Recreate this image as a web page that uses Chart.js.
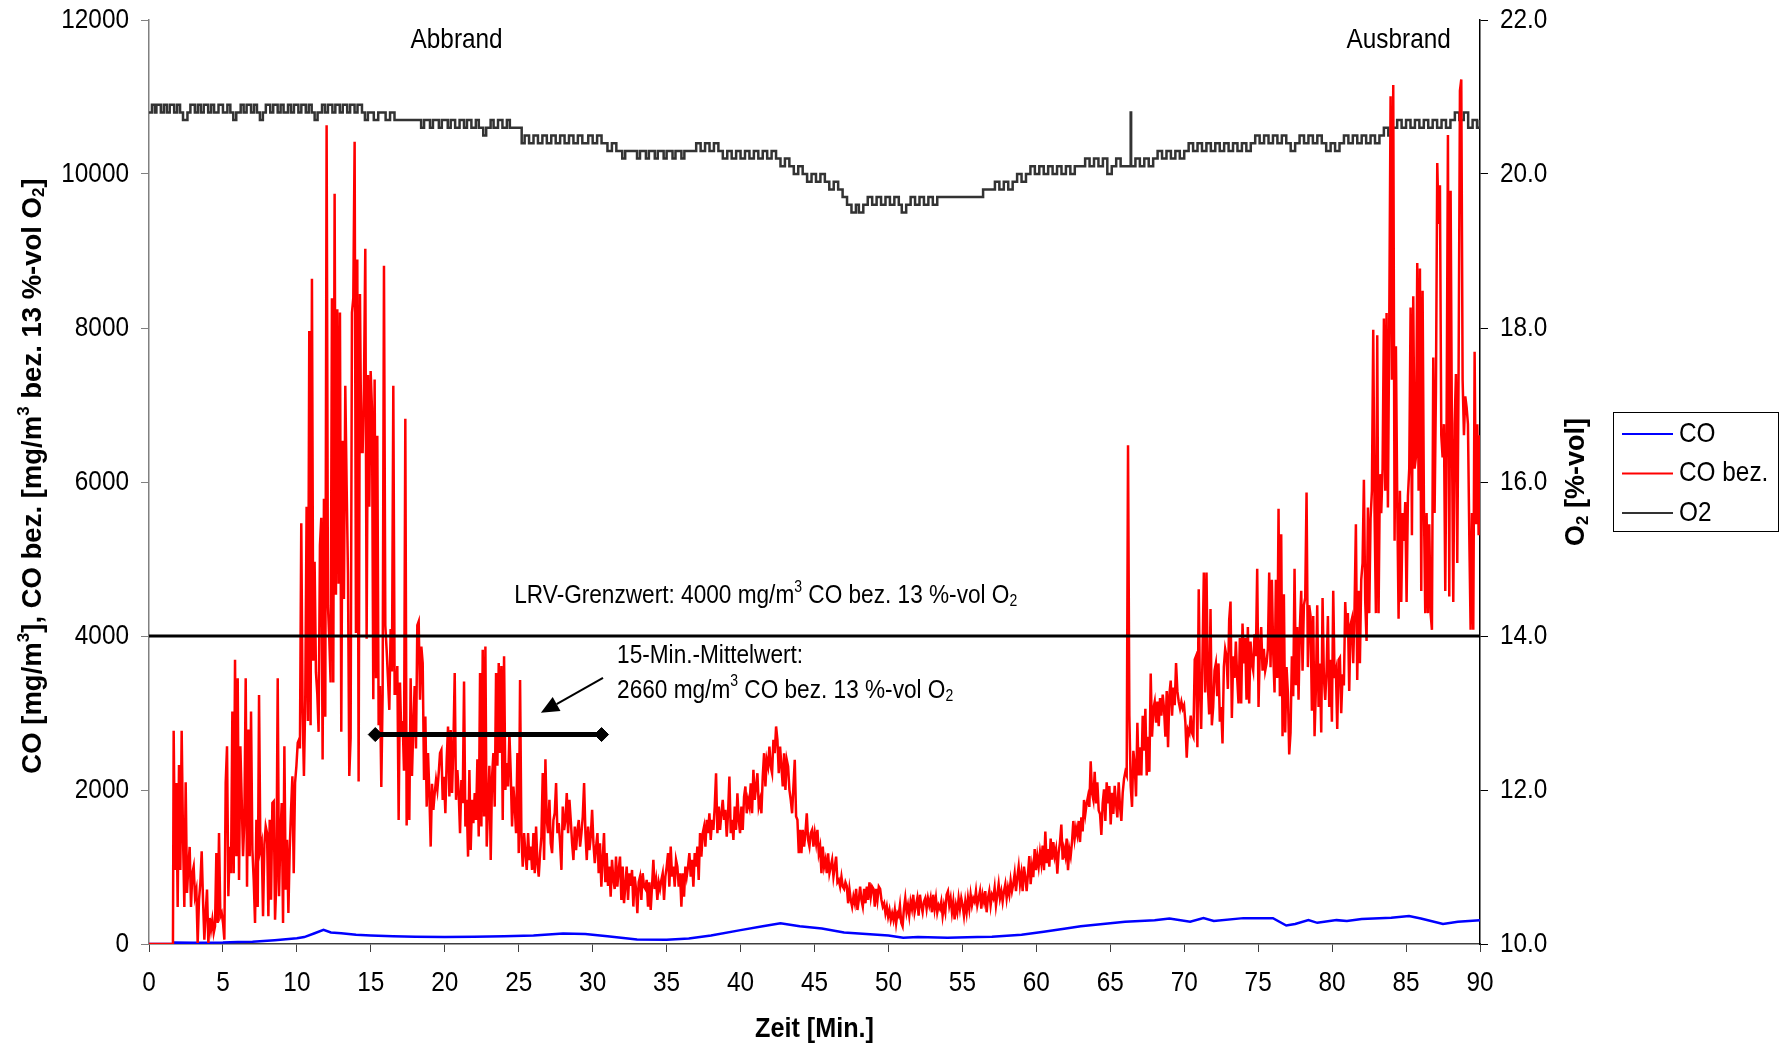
<!DOCTYPE html>
<html>
<head>
<meta charset="utf-8">
<title>CO / O2 Abbrand</title>
<script src="https://cdn.jsdelivr.net/npm/chart.js@4.4.1/dist/chart.umd.min.js"></script>
<style>
    html, body { margin: 0; padding: 0; background: #fff; }
    #wrap { width: 1781px; height: 1046px; }
</style>
</head>
<body>
<div id="wrap"><canvas id="chart" width="1781" height="1046"></canvas></div>
<script>
// ---- Data ----
// tick labels
const timeTicks = [0, 5, 10, 15, 20, 25, 30, 35, 40, 45, 50, 55, 60, 65, 70, 75, 80, 85, 90];
const coTicks = [0, 2000, 4000, 6000, 8000, 10000, 12000];
const o2Ticks = [10, 12, 14, 16, 18, 20, 22];

// CO bez. trace, digitised in blocks of evenly spaced samples
const STEP = 0.0902; // minutes between two digitised samples
const coBezLead = [[0, 0], [1.62, 0]];
const coBezA = [2770, 962, 2092, 481, 2326, 962, 2770, 1391, 481, 2100, 663, 1005, 1261, 481, 919, 1005, 620, 706, 13, 575,
    792, 1203, 575, 56, 403, 706, 13, 338, 186, 316, 143, 230, 1182, 273, 1442, 360, 403, 273, 56, 2092,
    2569, 620, 1261, 919, 3018, 919, 3692, 1139, 3452, 832, 2569, 1875, 1139, 1615, 3452, 745, 2786, 1139, 3018, 1226,
    832, 273, 1615, 481, 3235, 1226, 1313, 360, 1290, 1529, 1442, 360, 1615, 575, 1832, 1853, 316, 832, 3452, 620,
    1400, 1832, 273, 2569, 706, 1355, 403, 1226, 1745, 2179, 919, 2092, 2309, 2612, 2656];
const coBezB = [2540, 5463, 3040, 2183, 3183, 5680, 2897, 7960, 2840, 8640, 3680, 4963, 3530, 3250, 2755, 5177, 5535, 2397, 5783, 2950,
    10634, 4394, 3965, 3395, 8387, 3395, 9744, 4536, 8245, 4680, 8200, 2755, 6535, 4480, 7250, 5963, 4820, 2183, 2680, 8200,
    8387, 10420, 4040, 8890, 2112, 8440, 6390, 6390, 7250, 9030, 3965, 7390, 5680, 7440, 6960, 3180, 7330, 3450, 6600, 2840,
    3350, 2040, 3250, 8810, 4140, 3820, 3450, 3040, 4090, 3540, 7250, 3250, 3250, 3610, 1610, 3395, 2700, 2897, 2250, 6820,
    1540, 2700, 1610, 3450, 2183, 2840, 3350, 2540, 4140];
const coBezC = [4190, 3172, 3863, 3650, 2130, 2953, 1784, 2480, 1960, 1265, 2080, 1742, 1960, 2130, 2000, 2220, 2480, 2520, 1872, 2170,
    1700, 2400, 2823, 1916, 2780, 1960, 2565, 3520, 1872, 2260, 1960, 1440, 2130, 1830, 3410, 1525, 1872, 1135, 2260, 1220,
    1872, 1570, 1960, 1610, 2400, 1395, 3520, 1525, 3820, 1655, 3863, 1265, 1784, 2315, 1090, 2170, 2480, 1784, 3520, 2315,
    3650, 2480, 3610, 1610, 3737, 2000, 2350, 2045, 2740, 2220, 1525, 2045, 1784, 1440, 2480, 1180, 3430, 1395, 1004, 1440,
    1180, 962, 1440, 1090, 1265, 962, 1440, 918, 1525, 1050, 875, 1180, 1395, 2220, 1090, 2400, 1610, 1440, 1872, 1310,
    1180, 1610, 1700, 2090, 1440, 1570, 1310, 962, 1784, 1480, 1610, 1960, 1440, 1872, 1610, 1310, 1090, 1525, 1220, 1480,
    1610, 1265, 1440, 1655, 2090, 1440, 1090, 1525, 1220, 1395, 1742, 1310, 1050, 1265, 1440];
const coBezD = [919, 1308, 745, 1092, 1440, 802, 1180, 754, 1005, 615, 1092, 832, 715, 1135, 745, 962, 1135, 572, 1005, 529,
    754, 1005, 572, 919, 754, 962, 486, 875, 715, 399, 802, 875, 572, 919, 745, 715, 832, 486, 802, 442,
    745, 1092, 715, 832, 572, 802, 715, 832, 919, 572, 875, 1005, 1180, 745, 1265, 875, 1005, 745, 1092, 1005,
    745, 919, 486, 919, 615, 1005, 875, 1005, 1180, 875, 1092, 745, 1180, 1005, 1265, 832, 1440, 1135, 1440, 1525,
    1265, 1612, 1440, 1698, 1352, 1612, 1482, 1785, 2218, 1440, 1785, 1482, 1698, 1871, 1612, 1742, 1395, 1698, 2175, 1440,
    1612, 1352, 1785, 1482, 1958, 1612, 1440, 1785, 1482, 1915, 2045, 1698, 1871, 1785, 2088, 1698, 2262, 1871, 2045, 2218,
    1785, 1871, 1698, 2175, 2478, 2045, 2392, 2305, 2565, 2305, 2218, 2652, 2478, 2825, 2652, 2218, 2565, 2305, 2045, 2478,
    2002, 2392, 2305, 2002, 1871, 1698, 2045, 2392, 1655, 1612, 1178, 1482, 1178, 1482, 1265, 1440, 1698, 1352, 1265, 1440,
    1482, 1265, 1440, 1308, 1482, 1178, 1265, 919, 1265, 1005, 1092, 919, 1178, 919, 1005, 1092, 875, 1005, 1135, 802,
    832, 745, 875, 745, 715, 802, 754, 529, 715, 572, 486, 615, 529, 715, 442, 572, 745, 572, 486, 715,
    529, 745, 572, 802, 615, 745, 715, 486, 715, 572, 745, 715, 572, 486, 529, 399, 486, 356, 442, 312,
    399, 312, 442, 269, 399];
const coBezE = [367, 503, 276, 230, 458, 595, 412, 503, 367, 550, 458, 640, 412, 503, 595, 367, 640, 503, 412, 550,
    595, 458, 595, 503, 595, 412, 640, 458, 595, 412, 503, 458, 550, 367, 503, 412, 640, 686, 503, 595,
    412, 550, 321, 503, 412, 595, 458, 595, 503, 367, 550, 412, 595, 458, 640, 503, 595, 550, 686, 503,
    595, 686, 458, 640, 550, 686, 412, 595, 686, 503, 640, 595, 732, 503, 640, 777, 595, 686, 550, 686,
    777, 595, 732, 640, 823, 686, 777, 914, 686, 868, 1005, 777, 914, 686, 1005, 868, 686, 914, 1142, 777,
    1005, 868, 1233, 959, 1142, 1005, 1188, 1050, 1279, 959, 1461, 1050, 1233, 1005, 1370, 1096, 1324, 1142, 1233, 914,
    1188, 1324, 1552, 1096, 1233, 1142, 1370, 959, 1233, 1142, 1324, 1598, 1370, 1506, 1415, 1598, 1324, 1644, 1461, 1871,
    1689, 1826, 1917, 1780, 2373, 1962, 1871, 2236, 1826, 2099, 1735, 1689, 1415, 1826, 2008, 1598, 2099, 1826, 2053, 1552,
    1962, 1689, 2053, 1826, 1644, 2099, 1780, 1598, 1962, 2145, 2236, 2190, 6476, 2965, 2053, 1780, 2509, 2327, 1917, 2874,
    2190, 2555, 2190, 2965, 2509, 3056, 2190, 2691, 2236, 3512, 2691, 3056, 3147, 2874, 3147, 2828, 3193, 2965, 3238, 3056,
    2691, 3284, 2555, 3238, 3420, 2965, 3329, 3101, 3649, 3284, 3147, 3056, 3147, 3056, 3101, 2874, 2418, 2782, 2737, 2965,
    2737, 2691, 3694, 3740, 2555, 4607];
const coBezF = [3360, 2793, 3738, 4825, 3266, 4825, 3360, 2982, 4352, 2840, 3077, 3549, 3644, 3218, 3644, 2888, 3077, 2604, 3596, 3832,
    3738, 3313, 4210, 4447, 2935, 3738, 3455, 3927, 3455, 3124, 3974, 3124, 4163, 3644, 3974, 3171, 4116, 3124, 3927, 3644,
    3549, 4022, 3738, 4872, 3077, 3832, 4116, 3549, 3832, 3549, 3644, 3832, 4825, 3596, 4730, 3785, 3266, 4730, 3455, 5652,
    3218, 5321, 2698, 4541, 2746, 3596, 3266, 2462, 2746, 3738, 3218, 4872, 3360, 4116, 3171, 4116, 4588, 3549, 4400, 4494,
    5864, 3596, 4400, 4258, 3029, 4258, 2698, 3313, 4400, 3077, 3644, 2746, 4494, 3455, 3171, 3549, 4258, 3077, 3691, 2888,
    4588, 3455, 3549, 2793, 3691];
const coBezG = [3719, 2997, 3503, 3358, 4441, 4008, 4297, 3286, 4152, 4225, 3647, 4369, 5452, 3430, 4586, 3647, 4730, 4947, 6029, 4441,
    3936, 5668, 4297, 5524, 5885, 7978, 5596, 4297, 7906, 4297, 6102, 5596, 6174, 8123, 5885, 8195, 5668, 8050, 11010, 7329,
    11155, 5236, 7762, 5740, 4225, 5885, 4441, 5596, 5236, 5740, 4441, 5813, 6174, 8267, 5308, 8412, 6174, 6318, 8845, 5885,
    8772, 4586, 8484, 5668, 4297, 5596, 4297, 5452, 4297, 4080, 7618, 5596, 7184, 10144, 9350, 9855, 6607, 6318, 6751, 4586,
    6751, 10505, 4513, 9783, 6607, 4441, 6751, 7401, 4947, 7473, 11083, 11227, 7329, 6607, 7112, 6968, 6751, 5308, 4080, 5596,
    4080, 7690, 5452, 6751, 5308, 6607];
const coBezStarts = [1.668, 10.206, 18.236, 30.406, 50.686, 71.056, 80.526];

// CO (uncorrected), [minute, mg/m3]
const coPoints = [[0, 0], [1.6, 0], [1.7, 20], [3, 15], [5, 18], [6, 25], [7, 30], [8.5, 50], [10, 75], [10.5, 90],
    [11.2, 140], [11.8, 185], [12.3, 150], [13, 140], [14, 120], [15, 110], [16.5, 100], [18, 95], [20, 90], [22, 95],
    [24, 100], [26, 110], [28, 135], [29.5, 130], [31, 100], [33, 60], [35, 55], [36.5, 70], [38, 110], [40, 180],
    [41.5, 230], [42.7, 270], [44, 230], [45.5, 200], [47, 150], [48.5, 130], [50, 110], [51, 80], [52, 90], [54, 80],
    [56, 90], [57, 95], [59, 120], [60.5, 160], [62, 200], [63, 230], [64.5, 260], [66, 290], [68, 310], [69, 330],
    [70.4, 290], [71.3, 336], [72, 300], [74, 336], [76, 336], [76.9, 240], [77.5, 260], [78.4, 310], [79, 275], [80.3, 310],
    [81, 300], [82, 326], [84, 340], [85.2, 362], [86, 330], [87.5, 260], [88.5, 290], [90, 310]];

// O2 [%-vol], stepped trace (each value holds until the next time)
const o2Points = [[0, 20.8], [0.2, 20.9], [0.4, 20.8], [0.5, 20.9], [0.8, 20.8], [1.0, 20.9], [1.2, 20.8], [1.4, 20.9], [1.7, 20.8], [1.9, 20.9],
    [2.1, 20.8], [2.3, 20.7], [2.6, 20.8], [2.8, 20.9], [3.1, 20.8], [3.3, 20.9], [3.5, 20.8], [3.7, 20.9], [4.0, 20.8], [4.2, 20.9],
    [4.4, 20.8], [4.7, 20.9], [5.0, 20.8], [5.3, 20.9], [5.5, 20.8], [5.7, 20.7], [5.9, 20.8], [6.2, 20.9], [6.4, 20.8], [6.6, 20.9],
    [6.9, 20.8], [7.1, 20.9], [7.3, 20.8], [7.5, 20.7], [7.7, 20.8], [7.9, 20.9], [8.2, 20.8], [8.4, 20.9], [8.7, 20.8], [8.9, 20.9],
    [9.1, 20.8], [9.4, 20.9], [9.6, 20.8], [9.8, 20.9], [10.1, 20.8], [10.3, 20.9], [10.6, 20.8], [10.8, 20.9], [11.0, 20.8], [11.2, 20.7],
    [11.4, 20.8], [11.7, 20.9], [11.9, 20.8], [12.1, 20.9], [12.4, 20.8], [12.6, 20.9], [12.9, 20.8], [13.1, 20.9], [13.4, 20.8], [13.6, 20.9],
    [13.9, 20.8], [14.1, 20.9], [14.4, 20.8], [14.6, 20.7], [14.8, 20.8], [15.2, 20.7], [15.5, 20.8], [16.0, 20.7], [16.3, 20.8], [16.6, 20.7],
    [18.4, 20.6], [18.6, 20.7], [19.0, 20.6], [19.2, 20.7], [19.6, 20.6], [19.8, 20.7], [20.2, 20.6], [20.4, 20.7], [20.7, 20.6], [21.0, 20.7],
    [21.3, 20.6], [21.5, 20.7], [21.8, 20.6], [22.1, 20.7], [22.3, 20.6], [22.6, 20.5], [22.8, 20.6], [23.1, 20.7], [23.3, 20.6], [23.6, 20.7],
    [23.9, 20.6], [24.2, 20.7], [24.4, 20.6], [25.2, 20.4], [25.4, 20.5], [25.7, 20.4], [26.0, 20.5], [26.3, 20.4], [26.6, 20.5], [26.9, 20.4],
    [27.2, 20.5], [27.5, 20.4], [27.8, 20.5], [28.1, 20.4], [28.4, 20.5], [28.7, 20.4], [29.0, 20.5], [29.3, 20.4], [29.7, 20.5], [30.0, 20.4],
    [30.3, 20.5], [30.6, 20.4], [31.0, 20.3], [31.3, 20.4], [31.6, 20.3], [32.0, 20.2], [32.2, 20.3], [33.0, 20.2], [33.2, 20.3], [33.6, 20.2],
    [33.8, 20.3], [34.2, 20.2], [34.4, 20.3], [34.8, 20.2], [35.0, 20.3], [35.4, 20.2], [35.6, 20.3], [36.0, 20.2], [36.2, 20.3], [37.0, 20.4],
    [37.3, 20.3], [37.6, 20.4], [37.9, 20.3], [38.2, 20.4], [38.5, 20.3], [38.8, 20.2], [39.1, 20.3], [39.4, 20.2], [39.7, 20.3], [40.0, 20.2],
    [40.3, 20.3], [40.6, 20.2], [40.9, 20.3], [41.2, 20.2], [41.5, 20.3], [41.8, 20.2], [42.1, 20.3], [42.4, 20.2], [42.7, 20.1], [43.0, 20.2],
    [43.3, 20.1], [43.6, 20.0], [43.9, 20.1], [44.2, 20.0], [44.5, 19.9], [44.8, 20.0], [45.1, 19.9], [45.4, 20.0], [45.7, 19.9], [46.0, 19.8],
    [46.3, 19.9], [46.6, 19.8], [46.9, 19.7], [47.2, 19.6], [47.5, 19.5], [47.8, 19.6], [48.0, 19.5], [48.3, 19.6], [48.6, 19.7], [48.9, 19.6],
    [49.2, 19.7], [49.5, 19.6], [49.8, 19.7], [50.1, 19.6], [50.4, 19.7], [50.7, 19.6], [50.9, 19.5], [51.2, 19.6], [51.5, 19.7], [51.8, 19.6],
    [52.1, 19.7], [52.4, 19.6], [52.7, 19.7], [53.0, 19.6], [53.3, 19.7], [56.4, 19.8], [57.2, 19.9], [57.5, 19.8], [57.8, 19.9], [58.1, 19.8],
    [58.4, 19.9], [58.7, 20.0], [59.0, 19.9], [59.3, 20.0], [59.6, 20.1], [59.9, 20.0], [60.2, 20.1], [60.5, 20.0], [60.8, 20.1], [61.1, 20.0],
    [61.4, 20.1], [61.7, 20.0], [62.0, 20.1], [62.3, 20.0], [62.6, 20.1], [63.3, 20.2], [63.6, 20.1], [63.9, 20.2], [64.2, 20.1], [64.5, 20.2],
    [64.8, 20.0], [65.1, 20.1], [65.4, 20.2], [65.7, 20.1], [66.38, 20.8], [66.41, 20.1], [66.7, 20.2], [67.0, 20.1], [67.3, 20.2], [67.6, 20.1],
    [67.9, 20.2], [68.2, 20.3], [68.5, 20.2], [68.8, 20.3], [69.1, 20.2], [69.4, 20.3], [69.7, 20.2], [70.0, 20.3], [70.3, 20.4], [70.6, 20.3],
    [70.9, 20.4], [71.2, 20.3], [71.5, 20.4], [71.8, 20.3], [72.1, 20.4], [72.4, 20.3], [72.7, 20.4], [73.0, 20.3], [73.3, 20.4], [73.6, 20.3],
    [73.9, 20.4], [74.2, 20.3], [74.5, 20.4], [74.8, 20.5], [75.1, 20.4], [75.4, 20.5], [75.7, 20.4], [76.0, 20.5], [76.3, 20.4], [76.6, 20.5],
    [76.9, 20.4], [77.2, 20.3], [77.5, 20.4], [77.8, 20.5], [78.1, 20.4], [78.4, 20.5], [78.7, 20.4], [79.0, 20.5], [79.3, 20.4], [79.6, 20.3],
    [79.9, 20.4], [80.2, 20.3], [80.5, 20.4], [80.8, 20.5], [81.1, 20.4], [81.4, 20.5], [81.7, 20.4], [82.0, 20.5], [82.3, 20.4], [82.6, 20.5],
    [82.9, 20.4], [83.2, 20.5], [83.5, 20.6], [83.8, 20.5], [84.1, 20.6], [84.4, 20.7], [84.7, 20.6], [85.0, 20.7], [85.3, 20.6], [85.6, 20.7],
    [85.9, 20.6], [86.2, 20.7], [86.5, 20.6], [86.8, 20.7], [87.1, 20.6], [87.4, 20.7], [87.7, 20.6], [88.0, 20.7], [88.3, 20.8], [88.6, 20.7],
    [88.9, 20.8], [89.2, 20.6], [89.5, 20.7], [89.8, 20.6], [90.0, 20.7]];

// reference lines and annotation anchors [minute, mg/m3]
const limitLine = [[0, 4000], [90, 4000]];
const meanLine = [[15.3, 2720], [30.6, 2720]];
const meanArrow = [[30.7, 3456], [26.5, 3002]];

// ---- Fonts / text ----
const FONT = '"Liberation Sans", Arial, sans-serif';
const SX = 0.87; // the reference type is horizontally condensed
const TEXT_SIZE = 28;

const leftTitle = [['CO [mg/m', ''], ['3', 'sup'], ['], CO bez. [mg/m', ''], ['3', 'sup'], [' bez. 13 %-vol O', ''], ['2', 'sub'], [']', '']];
const rightTitle = [['O', ''], ['2', 'sub'], [' [%-vol]', '']];
const lrvText = [['LRV-Grenzwert: 4000 mg/m', ''], ['3', 'sup'], [' CO bez. 13 %-vol O', ''], ['2', 'sub']];
const meanText1 = [['15-Min.-Mittelwert:', '']];
const meanText2 = [['2660 mg/m', ''], ['3', 'sup'], [' CO bez. 13 %-vol O', ''], ['2', 'sub']];

// ---- Build point lists ----
const toXY = pairs => pairs.map(p => ({ x: p[0], y: p[1] }));
const coBezBlocks = [coBezA, coBezB, coBezC, coBezD, coBezE, coBezF, coBezG];
let coBezPoints = toXY(coBezLead);
coBezBlocks.forEach((vals, b) => {
    vals.forEach((v, i) => coBezPoints.push({ x: coBezStarts[b] + i * STEP, y: v }));
});

// Helper: text with super/subscripts, optionally condensed
function richWidth(ctx, parts, size, weight) {
    let w = 0;
    parts.forEach(([t, m]) => {
        ctx.font = `${weight} ${m ? size * 0.62 : size}px ${FONT}`;
        w += ctx.measureText(t).width;
    });
    return w;
}

function drawRich(ctx, parts, x, y, o) {
    const size = o.size || TEXT_SIZE, weight = o.weight || 'normal', sx = o.sx || 1, align = o.align || 'left';
    const w = richWidth(ctx, parts, size, weight) * sx;
    const start = align === 'center' ? x - w / 2 : (align === 'right' ? x - w : x);
    ctx.save();
    ctx.translate(start, y);
    ctx.scale(sx, 1);
    ctx.textAlign = 'left';
    ctx.textBaseline = 'middle';
    let cx = 0;
    parts.forEach(([t, m]) => {
        const s = m ? size * 0.62 : size;
        ctx.font = `${weight} ${s}px ${FONT}`;
        const dy = m === 'sup' ? -size * 0.33 : (m === 'sub' ? size * 0.22 : 0);
        ctx.fillText(t, cx, dy);
        cx += ctx.measureText(t).width;
    });
    ctx.restore();
}

// Plugin: tick labels, annotations, axis titles and legend box
const extrasPlugin = {
    id: 'extras',
    afterDatasetsDraw(chart) {
        const ctx = chart.ctx;
        const xs = chart.scales.x, ys = chart.scales.y;
        const px = v => xs.getPixelForValue(v), py = v => ys.getPixelForValue(v);
        ctx.save();
        ctx.fillStyle = '#000';

        // arrow towards the 15-min mean line
        const [a0, a1] = meanArrow;
        const x0 = px(a0[0]), y0 = py(a0[1]), x1 = px(a1[0]), y1 = py(a1[1]);
        const ang = Math.atan2(y1 - y0, x1 - x0);
        const headLen = 18, headW = 8;
        const bx = x1 - headLen * Math.cos(ang), by = y1 - headLen * Math.sin(ang);
        ctx.strokeStyle = '#000';
        ctx.lineWidth = 2;
        ctx.beginPath();
        ctx.moveTo(x0, y0);
        ctx.lineTo(bx, by);
        ctx.stroke();
        ctx.beginPath();
        ctx.moveTo(x1, y1);
        ctx.lineTo(bx + headW * Math.sin(ang), by - headW * Math.cos(ang));
        ctx.lineTo(bx - headW * Math.sin(ang), by + headW * Math.cos(ang));
        ctx.closePath();
        ctx.fill();

        // texts in the plot
        drawRich(ctx, [['Abbrand', '']], px(20.8), py(11740), { sx: SX, align: 'center' });
        drawRich(ctx, [['Ausbrand', '']], px(84.5), py(11740), { sx: SX, align: 'center' });
        drawRich(ctx, lrvText, px(24.7), py(4522), { size: 26, sx: SX });
        drawRich(ctx, meanText1, px(31.65), py(3736), { size: 26, sx: SX });
        drawRich(ctx, meanText2, px(31.65), py(3293), { size: 26, sx: SX });
        ctx.restore();
    },
    afterDraw(chart) {
        const ctx = chart.ctx;
        const area = chart.chartArea;
        const xs = chart.scales.x, ys = chart.scales.y, ys2 = chart.scales.y2;
        ctx.save();
        ctx.fillStyle = '#000';

        // tick labels
        timeTicks.forEach(v => drawRich(ctx, [[String(v), '']], xs.getPixelForValue(v), 983, { sx: SX, align: 'center' }));
        coTicks.forEach(v => drawRich(ctx, [[String(v), '']], 129, ys.getPixelForValue(v), { sx: SX, align: 'right' }));
        o2Ticks.forEach(v => drawRich(ctx, [[v.toFixed(1), '']], 1500, ys2.getPixelForValue(v), { sx: SX }));

        // axis titles
        drawRich(ctx, [['Zeit [Min.]', '']], (area.left + area.right) / 2, 1029, { weight: 'bold', sx: 0.9, align: 'center' });
        ctx.save();
        ctx.translate(33, 476);
        ctx.rotate(-Math.PI / 2);
        drawRich(ctx, leftTitle, 0, 0, { size: 27.5, weight: 'bold', align: 'center' });
        ctx.restore();
        ctx.save();
        ctx.translate(1577, 482);
        ctx.rotate(-Math.PI / 2);
        drawRich(ctx, rightTitle, 0, 0, { size: 27, weight: 'bold', align: 'center' });
        ctx.restore();

        // legend box
        const box = { left: 1613, top: 412, right: 1779, bottom: 532 };
        ctx.fillStyle = '#fff';
        ctx.fillRect(box.left, box.top, box.right - box.left, box.bottom - box.top);
        ctx.strokeStyle = '#000';
        ctx.lineWidth = 1;
        ctx.strokeRect(box.left + 0.5, box.top + 0.5, box.right - box.left - 1, box.bottom - box.top - 1);
        const items = chart.data.datasets.filter(d => d.inLegend);
        items.forEach((d, i) => {
            const y = 434 + i * 39.5;
            ctx.strokeStyle = d.borderColor;
            ctx.lineWidth = 2;
            ctx.beginPath();
            ctx.moveTo(1622, y);
            ctx.lineTo(1673, y);
            ctx.stroke();
            ctx.fillStyle = '#000';
            drawRich(ctx, [[d.label, '']], 1679, y, { sx: SX });
        });
        ctx.restore();
    }
};

const ctx = document.getElementById('chart').getContext('2d');
const chart = new Chart(ctx, {
    type: 'line',
    data: {
        datasets: [
            {
                label: 'LRV', data: toXY(limitLine), yAxisID: 'y',
                borderColor: '#000', borderWidth: 3, pointRadius: 0, order: 0
            },
            {
                label: 'Mittelwert', data: toXY(meanLine), yAxisID: 'y',
                borderColor: '#000', backgroundColor: '#000', borderWidth: 5,
                pointStyle: 'rectRot', pointRadius: 7, pointBorderWidth: 1, order: 0
            },
            {
                label: 'CO', data: toXY(coPoints), yAxisID: 'y', inLegend: true,
                borderColor: '#0000FF', borderWidth: 2.5, pointRadius: 0, order: 2
            },
            {
                label: 'CO bez.', data: coBezPoints, yAxisID: 'y', inLegend: true,
                borderColor: '#FF0000', borderWidth: 2.5, pointRadius: 0, order: 1
            },
            {
                label: 'O2', data: toXY(o2Points), yAxisID: 'y2', inLegend: true,
                borderColor: '#333333', borderWidth: 2.5, pointRadius: 0, stepped: 'before', order: 3
            }
        ]
    },
    options: {
        responsive: false,
        animation: false,
        devicePixelRatio: 1,
        layout: { padding: { top: 20, left: 0, right: 0, bottom: 0 } },
        plugins: { legend: { display: false }, tooltip: { enabled: false } },
        elements: { line: { tension: 0 } },
        scales: {
            x: {
                type: 'linear', min: timeTicks[0], max: timeTicks[timeTicks.length - 1],
                afterBuildTicks: s => { s.ticks = timeTicks.map(v => ({ value: v })); },
                afterFit: s => { s.height = 102; },
                border: { color: '#404040', width: 1.5 },
                grid: { drawOnChartArea: false, tickLength: 8, color: '#404040' },
                ticks: { display: false }
            },
            y: {
                position: 'left', min: coTicks[0], max: coTicks[coTicks.length - 1],
                afterBuildTicks: s => { s.ticks = coTicks.map(v => ({ value: v })); },
                afterFit: s => { s.width = 149; },
                border: { color: '#808080', width: 1.5 },
                grid: { drawOnChartArea: false, tickLength: 8, color: '#808080' },
                ticks: { display: false }
            },
            y2: {
                position: 'right', min: o2Ticks[0], max: o2Ticks[o2Ticks.length - 1],
                afterBuildTicks: s => { s.ticks = o2Ticks.map(v => ({ value: v })); },
                afterFit: s => { s.width = 301; },
                border: { color: '#000', width: 1.5 },
                grid: { drawOnChartArea: false, tickLength: 8, color: '#000' },
                ticks: { display: false }
            }
        }
    },
    plugins: [extrasPlugin]
});
</script>
</body>
</html>
